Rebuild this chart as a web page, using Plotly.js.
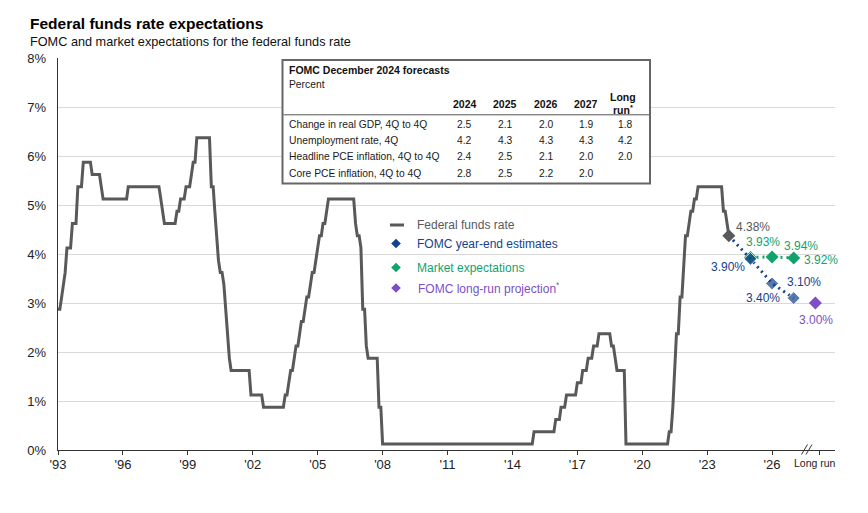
<!DOCTYPE html>
<html>
<head>
<meta charset="utf-8">
<script src="https://cdn.plot.ly/plotly-3.0.1.min.js"></script>
<style>
  html, body { margin: 0; padding: 0; background: #ffffff; }
  #chart { width: 868px; height: 513px; }
</style>
</head>
<body>
<div id="chart"></div>
<script>
// ---------------- DATA ----------------
// Federal funds rate, monthly, Dec 1993 .. Dec 2024 (percent)
const ffrStart = '1993-12';
const ffrRates = [
  2.875,
  2.875,3.125,3.375,3.625,4.125,4.125,4.125,4.625,4.625,4.625,5.375,5.375, // 1994
  5.375,5.875,5.875,5.875,5.875,5.875,5.625,5.625,5.625,5.625,5.625,5.375, // 1995
  5.125,5.125,5.125,5.125,5.125,5.125,5.125,5.125,5.125,5.125,5.125,5.125, // 1996
  5.125,5.125,5.375,5.375,5.375,5.375,5.375,5.375,5.375,5.375,5.375,5.375, // 1997
  5.375,5.375,5.375,5.375,5.375,5.375,5.375,5.375,5.125,4.875,4.625,4.625, // 1998
  4.625,4.625,4.625,4.625,4.625,4.875,4.875,5.125,5.125,5.125,5.375,5.375, // 1999
  5.375,5.625,5.875,5.875,6.375,6.375,6.375,6.375,6.375,6.375,6.375,6.375, // 2000
  5.375,5.375,4.875,4.375,3.875,3.625,3.625,3.375,2.875,2.375,1.875,1.625, // 2001
  1.625,1.625,1.625,1.625,1.625,1.625,1.625,1.625,1.625,1.625,1.125,1.125, // 2002
  1.125,1.125,1.125,1.125,1.125,0.875,0.875,0.875,0.875,0.875,0.875,0.875, // 2003
  0.875,0.875,0.875,0.875,0.875,1.125,1.125,1.375,1.625,1.625,1.875,2.125, // 2004
  2.125,2.375,2.625,2.625,2.875,3.125,3.125,3.375,3.625,3.625,3.875,4.125, // 2005
  4.375,4.375,4.625,4.625,4.875,5.125,5.125,5.125,5.125,5.125,5.125,5.125, // 2006
  5.125,5.125,5.125,5.125,5.125,5.125,5.125,5.125,4.625,4.375,4.375,4.125, // 2007
  2.875,2.875,2.125,1.875,1.875,1.875,1.875,1.875,1.875,0.875,0.875,0.125, // 2008
  0.125,0.125,0.125,0.125,0.125,0.125,0.125,0.125,0.125,0.125,0.125,0.125, // 2009
  0.125,0.125,0.125,0.125,0.125,0.125,0.125,0.125,0.125,0.125,0.125,0.125, // 2010
  0.125,0.125,0.125,0.125,0.125,0.125,0.125,0.125,0.125,0.125,0.125,0.125, // 2011
  0.125,0.125,0.125,0.125,0.125,0.125,0.125,0.125,0.125,0.125,0.125,0.125, // 2012
  0.125,0.125,0.125,0.125,0.125,0.125,0.125,0.125,0.125,0.125,0.125,0.125, // 2013
  0.125,0.125,0.125,0.125,0.125,0.125,0.125,0.125,0.125,0.125,0.125,0.125, // 2014
  0.125,0.125,0.125,0.125,0.125,0.125,0.125,0.125,0.125,0.125,0.125,0.375, // 2015
  0.375,0.375,0.375,0.375,0.375,0.375,0.375,0.375,0.375,0.375,0.375,0.625, // 2016
  0.625,0.625,0.875,0.875,0.875,1.125,1.125,1.125,1.125,1.125,1.125,1.375, // 2017
  1.375,1.375,1.625,1.625,1.625,1.875,1.875,1.875,2.125,2.125,2.125,2.375, // 2018
  2.375,2.375,2.375,2.375,2.375,2.375,2.125,2.125,1.875,1.625,1.625,1.625, // 2019
  1.625,1.625,0.125,0.125,0.125,0.125,0.125,0.125,0.125,0.125,0.125,0.125, // 2020
  0.125,0.125,0.125,0.125,0.125,0.125,0.125,0.125,0.125,0.125,0.125,0.125, // 2021
  0.125,0.125,0.375,0.375,0.875,1.625,2.375,2.375,3.125,3.125,3.875,4.375, // 2022
  4.375,4.625,4.875,4.875,5.125,5.125,5.375,5.375,5.375,5.375,5.375,5.375, // 2023
  5.375,5.375,5.375,5.375,5.375,5.375,5.375,5.375,4.875,4.875,4.625,4.375  // 2024
];

const forecastDates = ['2025-12-01', '2026-12-01', '2027-12-01'];
const fomcEstimates = [3.90, 3.40, 3.10];
const marketExpect = [3.93, 3.94, 3.92];
const longRunDate = '2028-12-01';
const longRunValue = 3.00;
const lastActualLabel = '4.38%';

const xTickVals = ['1993-12-01','1996-12-01','1999-12-01','2002-12-01','2005-12-01','2008-12-01',
                   '2011-12-01','2014-12-01','2017-12-01','2020-12-01','2023-12-01','2026-12-01','2029-02-01'];
const xTickText = ["'93","'96","'99","'02","'05","'08","'11","'14","'17","'20","'23","'26"," "];
const longRunTickLabel = 'Long run';

const tableTitle = 'FOMC December 2024 forecasts';
const tableUnit = 'Percent';
const tableCols = ['2024', '2025', '2026', '2027'];
const tableLongRunHead = ['Long', 'run<sup>*</sup>'];
const tableRowLabels = ['Change in real GDP, 4Q to 4Q', 'Unemployment rate, 4Q',
                        'Headline PCE inflation, 4Q to 4Q', 'Core PCE inflation, 4Q to 4Q'];
const gdpRow = [2.5, 2.1, 2.0, 1.9, 1.8];
const unempRow = [4.2, 4.3, 4.3, 4.3, 4.2];
const headlinePceRow = [2.4, 2.5, 2.1, 2.0, 2.0];
const corePceRow = [2.8, 2.5, 2.2, 2.0, null];

const legendNames = ['Federal funds rate', 'FOMC year-end estimates', 'Market expectations', 'FOMC long-run projection<sup>*</sup>'];

// ---------------- STYLE ----------------
const GRAY = '#58595b', BLUE = '#15428c', GREEN = '#12a36c', PURPLE = '#7b4fc6';
const FONT = 'Liberation Sans, Arial, Helvetica, sans-serif';

// month dates for the rate series
const ffrDates = [];
{
  let y = +ffrStart.slice(0, 4), m = +ffrStart.slice(5, 7);
  for (let i = 0; i < ffrRates.length; i++) {
    ffrDates.push(y + '-' + String(m).padStart(2, '0') + '-01');
    m++; if (m > 12) { m = 1; y++; }
  }
}
const lastDate = ffrDates[ffrDates.length - 1];
const lastRate = ffrRates[ffrRates.length - 1];

// plot-area geometry (pixels) -> paper coordinates
const L = 58, R = 33, T = 58, B = 63, W = 868, H = 513;
const PW = W - L - R, PH = H - T - B;
const px = x => (x - L) / PW;
const py = y => (H - B - y) / PH;

const traces = [
  { x: ffrDates, y: ffrRates, type: 'scatter', mode: 'lines', name: legendNames[0],
    line: { color: GRAY, width: 3 }, hoverinfo: 'x+y' },
  { x: forecastDates, y: marketExpect, type: 'scatter', mode: 'lines+markers', name: legendNames[2],
    line: { color: GREEN, width: 3, dash: '2px,4px' },
    marker: { symbol: 'diamond', size: 10, color: GREEN } },
  { x: [lastDate].concat(forecastDates), y: [lastRate].concat(fomcEstimates), type: 'scatter',
    mode: 'lines+markers', name: legendNames[1],
    line: { color: BLUE, width: 3, dash: '2px,4px' },
    marker: { symbol: 'diamond', size: [0, 10, 10, 10], color: BLUE } },
  { x: [lastDate], y: [lastRate], type: 'scatter', mode: 'markers', name: 'Latest',
    marker: { symbol: 'diamond', size: 10, color: GRAY } },
  { x: [longRunDate], y: [longRunValue], type: 'scatter', mode: 'markers', name: legendNames[3],
    marker: { symbol: 'diamond', size: 10, color: PURPLE } }
];

const ann = [];
const shapes = [];
function txt(text, x, y, opts) {
  ann.push(Object.assign({ text: text, x: px(x), y: py(y), xref: 'paper', yref: 'paper',
    showarrow: false, xanchor: 'left', yanchor: 'middle', borderpad: 0, borderwidth: 0,
    font: { family: FONT, size: 10.3, color: '#1a1a1a' } }, opts || {}));
}

// subtitle
txt('FOMC and market expectations for the federal funds rate', 30, 41.5,
    { font: { family: FONT, size: 12.7, color: '#111' } });

// ---- table ----
shapes.push({ type: 'rect', xref: 'paper', yref: 'paper', x0: px(282.5), x1: px(650), y0: py(60), y1: py(183.5),
  line: { color: '#666666', width: 2 }, fillcolor: '#ffffff', layer: 'above' });
shapes.push({ type: 'line', xref: 'paper', yref: 'paper', x0: px(283.5), x1: px(649), y0: py(114.8), y1: py(114.8),
  line: { color: '#555555', width: 1 }, layer: 'above' });
const HEAD = { family: FONT, size: 10.5, color: '#111' };
txt('<b>' + tableTitle + '</b>', 289.3, 70, { font: HEAD });
txt(tableUnit, 288.7, 84.3);
const colX = [464.7, 505.3, 546.2, 586.2, 625];
tableCols.forEach((c, i) => txt('<b>' + c + '</b>', colX[i], 104.3, { xanchor: 'center', font: HEAD }));
txt('<b>' + tableLongRunHead[0] + '</b>', 623, 97, { xanchor: 'center', font: HEAD });
txt('<b>' + tableLongRunHead[1] + '</b>', 623, 109.5, { xanchor: 'center', yanchor: 'middle', font: HEAD });
const rowY = [124, 140.3, 156.6, 173.5];
const rows = [gdpRow, unempRow, headlinePceRow, corePceRow];
tableRowLabels.forEach((lab, r) => {
  txt(lab, 288.7, rowY[r]);
  rows[r].forEach((v, i) => { if (v !== null) txt(v.toFixed(1), colX[i], rowY[r], { xanchor: 'center' }); });
});

// ---- legend ----
shapes.push({ type: 'line', xref: 'paper', yref: 'paper', x0: px(390), x1: px(404), y0: py(225), y1: py(225),
  line: { color: GRAY, width: 3 } });
function diamondPath(cx, cy, r) {
  return 'M' + px(cx) + ',' + py(cy - r) + ' L' + px(cx + r) + ',' + py(cy) + ' L' + px(cx) + ',' + py(cy + r) +
         ' L' + px(cx - r) + ',' + py(cy) + ' Z';
}
[[243.5, BLUE], [267.5, GREEN], [288, PURPLE]].forEach(d => {
  shapes.push({ type: 'path', xref: 'paper', yref: 'paper', path: diamondPath(396, d[0], 4.8),
    fillcolor: d[1], line: { width: 0 } });
});
const legCol = [GRAY, BLUE, GREEN, PURPLE];
const legY = [225, 243.5, 268.3, 288.3];
const legX = [416.7, 416.7, 416.7, 418.3];
legendNames.forEach((n, i) => txt(n, legX[i], legY[i], { font: { family: FONT, size: 12, color: legCol[i] } }));

// ---- point labels ----
function plabel(text, x, y, dx, dy, color) {
  ann.push({ text: text, x: x, y: y, xref: 'x', yref: 'y', showarrow: false, xshift: dx, yshift: dy,
    xanchor: 'center', yanchor: 'middle', borderpad: 0, borderwidth: 0,
    font: { family: FONT, size: 12, color: color } });
}
plabel(lastActualLabel, lastDate, lastRate, 24.5, 9, GRAY);
plabel(fomcEstimates[0].toFixed(2) + '%', forecastDates[0], fomcEstimates[0], -22.4, -7.8, BLUE);
plabel(fomcEstimates[1].toFixed(2) + '%', forecastDates[1], fomcEstimates[1], -9.5, -14.9, BLUE);
plabel(fomcEstimates[2].toFixed(2) + '%', forecastDates[2], fomcEstimates[2], 10.6, 15.8, BLUE);
plabel(marketExpect[0].toFixed(2) + '%', forecastDates[0], marketExpect[0], 12.9, 15.7, GREEN);
plabel(marketExpect[1].toFixed(2) + '%', forecastDates[1], marketExpect[1], 28.8, 10.9, GREEN);
plabel(marketExpect[2].toFixed(2) + '%', forecastDates[2], marketExpect[2], 27.6, -2.1, GREEN);
plabel(longRunValue.toFixed(2) + '%', longRunDate, longRunValue, 0.4, -17, PURPLE);

// ---- axis break and long-run tick label ----
[[801.5, 807.5], [806, 812]].forEach(b => {
  shapes.push({ type: 'line', xref: 'paper', yref: 'paper', x0: px(b[0]), x1: px(b[1]), y0: py(454.5), y1: py(444.5),
    line: { color: '#333333', width: 1 } });
});
txt(longRunTickLabel, 815, 462.5, { xanchor: 'center', font: { family: FONT, size: 10.5, color: '#222' } });

const layout = {
  width: W, height: H,
  margin: { l: L, r: R, t: T, b: B, pad: 0 },
  paper_bgcolor: '#ffffff', plot_bgcolor: '#ffffff',
  font: { family: FONT, color: '#222' },
  showlegend: false,
  title: { text: 'Federal funds rate expectations', x: 30 / W, xanchor: 'left', xref: 'container',
           y: 1 - 23.8 / H, yanchor: 'middle', yref: 'container',
           font: { family: FONT, size: 15.5, color: '#000', weight: 'bold' } },
  xaxis: { type: 'date', range: ['1993-12-01', '2029-10-28'], tickmode: 'array',
           tickvals: xTickVals, ticktext: xTickText, ticks: 'outside', ticklen: 4, tickwidth: 1,
           tickcolor: '#333', showline: true, linecolor: '#333', linewidth: 1.3, showgrid: false,
           zeroline: false, ticklabelstandoff: -2,
           tickfont: { family: FONT, size: 13, color: '#222' }, fixedrange: true },
  yaxis: { range: [0, 8], tick0: 0, dtick: 1, ticksuffix: '%', showgrid: true, gridcolor: '#d9d9d9',
           gridwidth: 1, showline: true, linecolor: '#333', linewidth: 1.3, ticks: '', zeroline: false,
           ticklabelstandoff: 8, tickfont: { family: FONT, size: 13, color: '#222' }, fixedrange: true },
  shapes: shapes,
  annotations: ann
};

Plotly.newPlot('chart', traces, layout, { displayModeBar: false, staticPlot: true });
</script>
</body>
</html>
